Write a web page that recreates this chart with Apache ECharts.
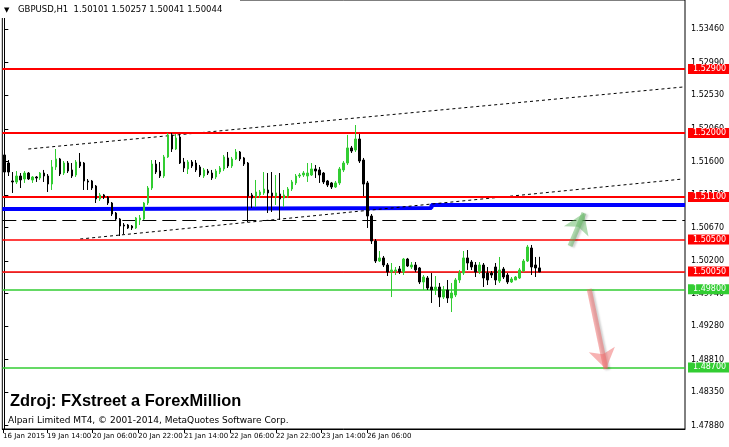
<!DOCTYPE html>
<html><head><meta charset="utf-8">
<script src="https://cdn.jsdelivr.net/npm/echarts@6/dist/echarts.min.js"></script>
<style>html,body{margin:0;padding:0;background:#fff}#c{width:729px;height:447px}</style>
</head><body><div id="c"></div>
<script>
// ---- data (GBPUSD H1) ----
const barOpen = [
1.51691,1.51578,1.51325,1.51311,1.51395,1.51353,1.51437,1.51339,1.51381,1.51367,
1.51437,1.51395,1.51282,1.51522,1.51635,1.51437,1.51578,1.51480,1.51409,1.51592,
1.51578,1.51325,1.51325,1.51254,1.51071,1.51128,1.51099,1.51015,1.50874,1.50790,
1.50705,1.50705,1.50691,1.50663,1.50776,1.50790,1.51015,1.51226,1.51564,1.51465,
1.51395,1.51663,1.51973,1.51775,1.51944,1.51592,1.51494,1.51592,1.51578,1.51522,
1.51395,1.51465,1.51437,1.51381,1.51451,1.51494,1.51649,1.51536,1.51635,1.51733,
1.51649,1.51578,1.51128,1.51099,1.51128,1.51156,1.51198,1.51156,1.51113,1.51142,
1.51085,1.51113,1.51212,1.51297,1.51395,1.51409,1.51395,1.51409,1.51494,1.51480,
1.51437,1.51325,1.51297,1.51240,1.51297,1.51480,1.51578,1.51790,1.51761,1.51916,
1.51620,1.51297,1.50832,1.50480,1.50198,1.50241,1.50142,1.50043,1.50057,1.50086,
1.50043,1.50226,1.50114,1.50142,1.50100,1.49903,1.49959,1.49832,1.49790,1.49832,
1.49691,1.49790,1.49677,1.49720,1.49931,1.50029,1.50241,1.50184,1.50142,1.50043,
1.50142,1.50029,1.50029,1.50114,1.49917,1.50086,1.50001,1.49903,1.49931,1.49959,
1.50057,1.50198,1.50381,1.50142,1.50101];
const barClose = [
1.51451,1.51451,1.51311,1.51395,1.51339,1.51437,1.51353,1.51381,1.51367,1.51437,
1.51395,1.51282,1.51522,1.51635,1.51423,1.51578,1.51465,1.51395,1.51592,1.51536,
1.51325,1.51311,1.51226,1.51071,1.51128,1.51099,1.51015,1.50860,1.50790,1.50691,
1.50691,1.50663,1.50663,1.50804,1.50804,1.51015,1.51226,1.51564,1.51451,1.51395,
1.51663,1.51973,1.51775,1.51930,1.51578,1.51508,1.51592,1.51536,1.51480,1.51409,
1.51480,1.51437,1.51367,1.51465,1.51508,1.51663,1.51536,1.51635,1.51733,1.51635,
1.51564,1.51113,1.51085,1.51170,1.51170,1.51212,1.51156,1.51113,1.51156,1.51071,
1.51128,1.51212,1.51311,1.51395,1.51409,1.51437,1.51437,1.51494,1.51465,1.51409,
1.51311,1.51268,1.51240,1.51297,1.51494,1.51578,1.51790,1.51747,1.51916,1.51606,
1.51282,1.50832,1.50480,1.50198,1.50241,1.50142,1.50043,1.50072,1.50072,1.50043,
1.50226,1.50128,1.50142,1.50072,1.49903,1.49973,1.49818,1.49790,1.49832,1.49691,
1.49790,1.49677,1.49748,1.49931,1.50029,1.50241,1.50170,1.50114,1.50043,1.50142,
1.49959,1.49931,1.50001,1.49931,1.50072,1.49973,1.49903,1.49945,1.49973,1.50072,
1.50198,1.50395,1.50114,1.50100,1.50044];
const barLow = [
1.51409,1.51395,1.51156,1.51282,1.51226,1.51297,1.51339,1.51297,1.51311,1.51339,
1.51311,1.51170,1.51198,1.51480,1.51395,1.51409,1.51437,1.51367,1.51381,1.51508,
1.51198,1.51198,1.51198,1.51015,1.51043,1.51071,1.50987,1.50832,1.50761,1.50550,
1.50578,1.50649,1.50635,1.50649,1.50705,1.50776,1.50987,1.51198,1.51423,1.51367,
1.51367,1.51649,1.51733,1.51761,1.51564,1.51451,1.51423,1.51508,1.51451,1.51381,
1.51367,1.51409,1.51339,1.51353,1.51423,1.51465,1.51508,1.51508,1.51620,1.51606,
1.51536,1.50747,1.50945,1.50959,1.51085,1.51128,1.50874,1.50888,1.50987,1.50776,
1.50959,1.51085,1.51184,1.51268,1.51367,1.51381,1.51311,1.51395,1.51367,1.51297,
1.51282,1.51240,1.51212,1.51226,1.51268,1.51451,1.51550,1.51719,1.51733,1.51578,
1.51113,1.50663,1.50438,1.50170,1.50184,1.50114,1.49987,1.49691,1.50001,1.50015,
1.50001,1.50114,1.50086,1.50043,1.49874,1.49790,1.49790,1.49607,1.49720,1.49551,
1.49663,1.49607,1.49480,1.49691,1.49889,1.50001,1.50072,1.50072,1.49973,1.50015,
1.49832,1.49860,1.49959,1.49860,1.49889,1.49945,1.49874,1.49889,1.49931,1.49945,
1.50043,1.50184,1.50001,1.49973,1.50041];
const barHigh = [
1.51761,1.51620,1.51451,1.51465,1.51437,1.51465,1.51451,1.51395,1.51395,1.51451,
1.51480,1.51423,1.51620,1.51775,1.51649,1.51606,1.51606,1.51578,1.51620,1.51719,
1.51592,1.51353,1.51339,1.51268,1.51156,1.51142,1.51113,1.51029,1.50888,1.50804,
1.50733,1.50719,1.50705,1.50818,1.50846,1.51029,1.51254,1.51620,1.51620,1.51592,
1.51691,1.52001,1.52001,1.51987,1.51987,1.51649,1.51620,1.51620,1.51620,1.51550,
1.51508,1.51494,1.51480,1.51494,1.51536,1.51691,1.51733,1.51663,1.51775,1.51747,
1.51663,1.51592,1.51156,1.51339,1.51198,1.51451,1.51437,1.51451,1.51409,1.51437,
1.51198,1.51240,1.51339,1.51423,1.51437,1.51465,1.51578,1.51578,1.51550,1.51522,
1.51451,1.51339,1.51311,1.51325,1.51522,1.51606,1.51973,1.51818,1.52113,1.51987,
1.51649,1.51325,1.50860,1.50508,1.50339,1.50269,1.50170,1.50170,1.50114,1.50128,
1.50241,1.50241,1.50184,1.50184,1.50114,1.50001,1.49987,1.50029,1.49987,1.49889,
1.49846,1.49931,1.49889,1.49959,1.50072,1.50339,1.50353,1.50212,1.50184,1.50184,
1.50170,1.50114,1.50057,1.50170,1.50255,1.50114,1.50029,1.49973,1.49987,1.50100,
1.50226,1.50424,1.50424,1.50255,1.50257];

const slotCount = 171;                 // bar slots incl. empty right margin
const priceMin = 1.47833, priceMax = 1.53873;
const redLevels = [1.52900, 1.52000, 1.51100, 1.50500, 1.50050];
const redWidths = [2, 2, 2, 1.5, 1.5];
const greenLevels = [1.49800, 1.48700];
const bidLevel = 1.50044;
const dashedLevel = 1.50769;
const yTickValues = [1.47880,1.48350,1.48810,1.49280,1.49740,1.50200,1.50670,1.51130,1.51600,1.52060,1.52530,1.52990,1.53460];
const xTickPos = [-0.33, 10.69, 22.1, 33.55, 44.99, 56.5, 68.03, 79.44, 90.88];
const xTickLabels = ['16 Jan 2015','19 Jan 14:00','20 Jan 06:00','20 Jan 22:00','21 Jan 14:00','22 Jan 06:00','22 Jan 22:00','23 Jan 14:00','26 Jan 06:00'];
const upperTrend = [[6, 1.51775], [170, 1.52648]];
const lowerTrend = [[19, 1.50508], [170, 1.51353]];
const blueLevel = [[-0.5,1.50930],[21,1.50930],[21,1.50945],[107,1.50945],[107,1.50987],[170.5,1.50987]];
const upArrow = [[141.7, 1.50409], [145.2, 1.50874]];
const downArrow = [[146.5, 1.49804], [150.7, 1.48678]];
const titleText = 'GBPUSD,H1  1.50101 1.50257 1.50041 1.50044';
const sourceText = 'Zdroj: FXstreet a ForexMillion';
const copyText = 'Alpari Limited MT4, \u00a9 2001-2014, MetaQuotes Software Corp.';

// ---- chart ----
const FONT = 'DejaVu Sans';
const RED = '#ff0000', GREEN = '#32cd32';
const chart = echarts.init(document.getElementById('c'), null, {renderer: 'canvas'});
const ohlc = barOpen.map((o, i) => [o, barClose[i], barLow[i], barHigh[i]]);
const slots = Array.from({length: slotCount}, (_, i) => String(i));

function levelLine(v, color, width, showLabel) {
  return {
    yAxis: v,
    lineStyle: {color: color, width: width, type: 'solid'},
    label: showLabel ? {
      show: true, position: 'end', distance: 3,
      formatter: p => Number(p.value).toFixed(5),
      color: '#fff', backgroundColor: color, padding: [1, 3, 1, 5],
      fontSize: 8, lineHeight: 8, fontFamily: FONT
    } : {show: false}
  };
}
const markData = [];
markData.push({yAxis: bidLevel, lineStyle: {color: '#8c8c8c', width: 1, type: 'solid'}, label: {show: false}});
markData.push({yAxis: dashedLevel, lineStyle: {color: '#000', width: 1, type: [14, 6]}, label: {show: false}});
redLevels.forEach((v, k) => markData.push(levelLine(v, RED, redWidths[k], true)));
greenLevels.forEach(v => markData.push(levelLine(v, GREEN, 1.5, true)));

const option = {
  animation: false,
  backgroundColor: '#fff',
  grid: {left: 2, right: 44, top: 0, bottom: 18, show: true, borderColor: '#000', borderWidth: 1, backgroundColor: '#fff'},
  xAxis: [
    {type: 'category', data: slots, boundaryGap: true, show: false},
    {type: 'value', min: -0.5, max: slotCount - 0.5, position: 'bottom',
     axisLine: {show: true, lineStyle: {color: '#000'}},
     axisTick: {show: true, length: 4, customValues: xTickPos, lineStyle: {color: '#000'}},
     splitLine: {show: false},
     axisLabel: {customValues: xTickPos, align: 'left', margin: 4, fontSize: 7, fontFamily: FONT, color: '#000',
       showMinLabel: true, showMaxLabel: true, hideOverlap: false,
       formatter: v => { let b = 0; xTickPos.forEach((t, k) => { if (Math.abs(t - v) < Math.abs(xTickPos[b] - v)) b = k; }); return xTickLabels[b]; }}}
  ],
  yAxis: {type: 'value', position: 'right', min: priceMin, max: priceMax, scale: true,
    axisLine: {show: true, lineStyle: {color: '#000'}},
    axisTick: {show: true, length: 4, customValues: yTickValues, lineStyle: {color: '#000'}},
    splitLine: {show: false},
    axisLabel: {customValues: yTickValues, margin: 6, fontSize: 8, fontFamily: FONT, color: '#000', showMinLabel: true, showMaxLabel: true, formatter: v => v.toFixed(5)}},
  series: [
    {type: 'line', xAxisIndex: 1, data: blueLevel, symbol: 'none', lineStyle: {color: '#0000ff', width: 4}, z: 1, silent: true},
    {type: 'line', xAxisIndex: 1, data: upperTrend, symbol: 'none', lineStyle: {color: '#000', width: 1, type: [3, 3]}, z: 1, silent: true},
    {type: 'line', xAxisIndex: 1, data: lowerTrend, symbol: 'none', lineStyle: {color: '#000', width: 1, type: [3, 3]}, z: 1, silent: true},
    {type: 'candlestick', xAxisIndex: 0, data: ohlc, barWidth: 2, z: 3,
     itemStyle: {color: GREEN, color0: '#000', borderColor: GREEN, borderColor0: '#000', borderColorDoji: '#000', borderWidth: 1},
     markLine: {symbol: 'none', silent: true, animation: false, precision: 5, z: 2, data: markData}},
    {type: 'lines', coordinateSystem: 'cartesian2d', xAxisIndex: 1, z: 5, silent: true,
     symbol: ['none', 'arrow'], symbolSize: [18, 20],
     data: [
       {coords: upArrow, lineStyle: {color: '#5fb55f', width: 5, shadowColor: 'rgba(0,0,0,0.35)', shadowBlur: 2, shadowOffsetX: 2, shadowOffsetY: 1}},
       {coords: downArrow, lineStyle: {color: '#f06868', width: 5, shadowColor: 'rgba(0,0,0,0.35)', shadowBlur: 2, shadowOffsetX: 2, shadowOffsetY: 1}}
     ]}
  ],
  graphic: [
    {type: 'rect', left: 0, top: 0, shape: {x: 0, y: 0, width: 240, height: 18}, style: {fill: '#fff'}, z: 10},
    {type: 'text', x: 4, y: 10, z: 11, style: {text: '\u25bc', font: '7px ' + FONT, fill: '#000', textVerticalAlign: 'middle'}},
    {type: 'text', x: 18, y: 10, z: 11, style: {text: titleText, font: '8.5px ' + FONT, fill: '#000', textVerticalAlign: 'middle'}},
    {type: 'text', x: 10, y: 401, z: 11, style: {text: sourceText, font: 'bold 16.4px "Liberation Sans"', fill: '#000', textVerticalAlign: 'middle'}},
    {type: 'text', x: 8, y: 420.5, z: 11, style: {text: copyText, font: '9px ' + FONT, fill: '#000', textVerticalAlign: 'middle'}}
  ]
};
chart.setOption(option);
</script></body></html>
